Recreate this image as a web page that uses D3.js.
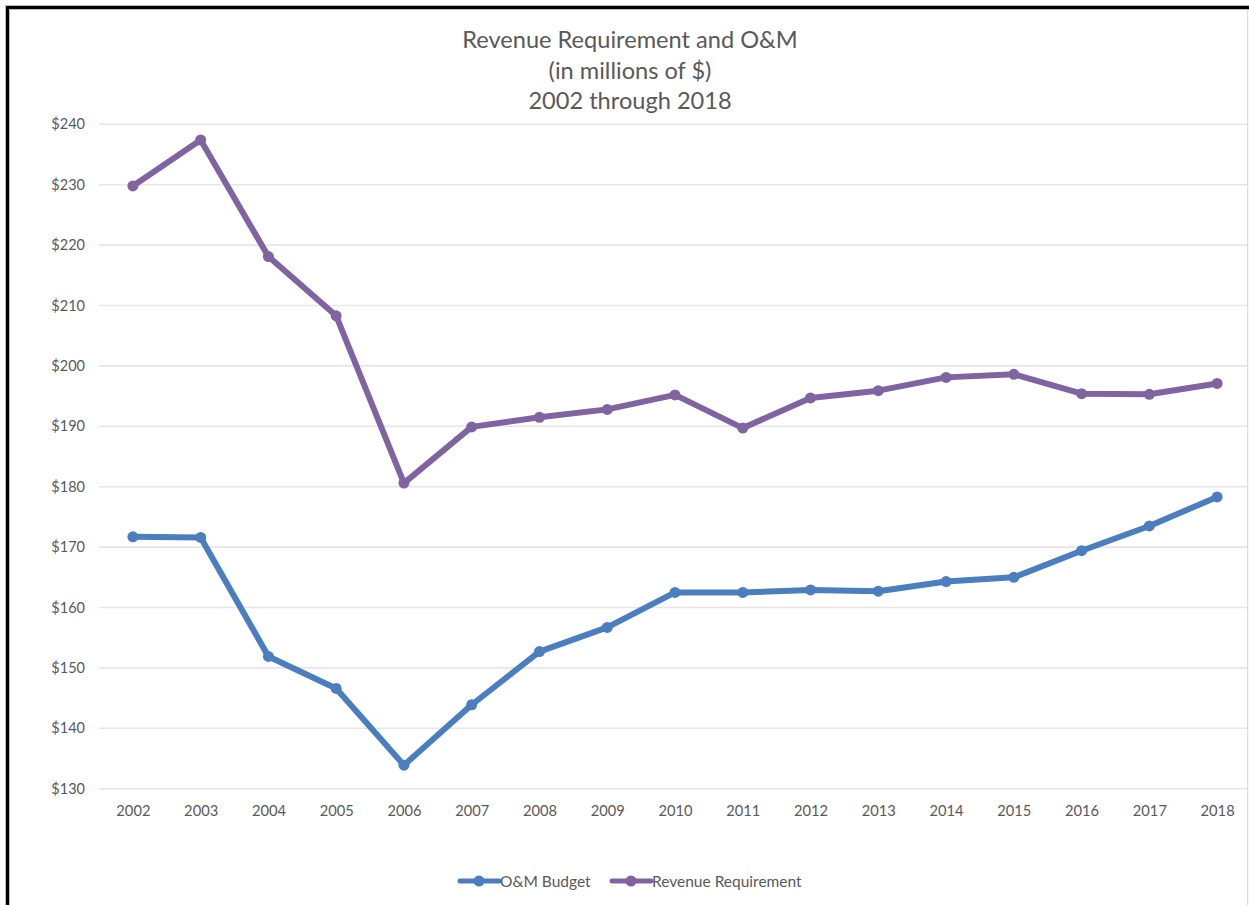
<!DOCTYPE html>
<html>
<head>
<meta charset="utf-8">
<script src="https://cdn.jsdelivr.net/npm/d3@7"></script>
<style>
  html, body { margin: 0; padding: 0; background: #fff; }
  svg { display: block; }
  text { font-family: Lato, "Open Sans", "Liberation Sans", sans-serif; fill: #595959; }
</style>
</head>
<body>
<svg id="chart" width="1249" height="905"></svg>
<script>
// Years on the category axis
const years = ["2002","2003","2004","2005","2006","2007","2008","2009","2010",
               "2011","2012","2013","2014","2015","2016","2017","2018"];

// Revenue requirement, millions of dollars
const revenueRequirement = [229.8, 237.4, 218.1, 208.3, 180.6, 189.9, 191.5, 192.8, 195.2,
                            189.7, 194.7, 195.9, 198.1, 198.6, 195.4, 195.3, 197.1];

// O&M budget, millions of dollars
const omBudget = [171.7, 171.6, 151.9, 146.6, 133.9, 143.9, 152.7, 156.7, 162.5,
                  162.5, 162.9, 162.7, 164.3, 165.0, 169.4, 173.5, 178.3];

// Value-axis ticks
const yTicks = [130, 140, 150, 160, 170, 180, 190, 200, 210, 220, 230, 240];

const titleLines = ["Revenue Requirement and O&M", "(in millions of $)", "2002 through 2018"];

const seriesList = [
  { name: "O&M Budget", values: omBudget, color: "#4A7EBE" },
  { name: "Revenue Requirement", values: revenueRequirement, color: "#8064A2" }
];

const svg = d3.select("#chart");

// Frame around the chart
svg.append("rect").attr("x", 1247).attr("y", 8).attr("width", 1.2).attr("height", 905)
  .attr("fill", "#dcdcdc");
svg.append("path")
  .attr("d", "M7.5,905 L7.5,7.5 L1249,7.5")
  .attr("fill", "none").attr("stroke", "#bbb").attr("stroke-width", 5);
svg.append("path")
  .attr("d", "M7.5,905 L7.5,7.5 L1249,7.5")
  .attr("fill", "none").attr("stroke", "#000").attr("stroke-width", 3);

const plot = { left: 99, right: 1251, top: 124.3, bottom: 788.7 };

const x = d3.scalePoint().domain(years)
  .range([plot.left, plot.right]).padding(0.5);
const y = d3.scaleLinear().domain([130, 240]).range([plot.bottom, plot.top]);

// Horizontal gridlines
svg.append("g").selectAll("line").data(yTicks).join("line")
  .attr("x1", plot.left).attr("x2", 1247)
  .attr("y1", d => y(d)).attr("y2", d => y(d))
  .attr("stroke", "#e6e6e6").attr("stroke-width", 1.6);

// Y-axis labels
const yAxis = d3.axisLeft(y).tickValues(yTicks).tickSize(0).tickPadding(0)
  .tickFormat(d => "$" + d);
svg.append("g").attr("transform", "translate(85,0)").call(yAxis)
  .call(g => g.select(".domain").remove())
  .selectAll("text").attr("font-size", 14.5).style("font-family", "Lato, sans-serif")
  .attr("fill", "#595959");

// X-axis labels
const xAxis = d3.axisBottom(x).tickSize(0).tickPadding(0);
svg.append("g").attr("transform", "translate(0,805.5)").call(xAxis)
  .call(g => g.select(".domain").remove())
  .selectAll("text").attr("font-size", 14.7).style("font-family", "Lato, sans-serif")
  .attr("fill", "#595959");

// Series lines and markers
const line = d3.line().x((d, i) => x(years[i])).y(d => y(d));
seriesList.forEach(s => {
  svg.append("path").datum(s.values)
    .attr("d", line).attr("fill", "none")
    .attr("stroke", s.color).attr("stroke-width", 6)
    .attr("stroke-linejoin", "round").attr("stroke-linecap", "round");
  svg.append("g").selectAll("circle").data(s.values).join("circle")
    .attr("cx", (d, i) => x(years[i])).attr("cy", d => y(d))
    .attr("r", 5.5).attr("fill", s.color);
});

// Title
svg.append("text").attr("x", 630).attr("y", 48).attr("text-anchor", "middle")
  .attr("font-size", 23.6)
  .selectAll("tspan").data(titleLines).join("tspan")
  .attr("x", 630).attr("dy", (d, i) => i === 0 ? 0 : 30.5).text(d => d);

// Legend
const legendItems = [
  { s: seriesList[0], x0: 460 },
  { s: seriesList[1], x0: 612 }
];
const ly = 881;
legendItems.forEach(({ s, x0 }) => {
  svg.append("line").attr("x1", x0).attr("x2", x0 + 39).attr("y1", ly).attr("y2", ly)
    .attr("stroke", s.color).attr("stroke-width", 5).attr("stroke-linecap", "round");
  svg.append("circle").attr("cx", x0 + 19).attr("cy", ly).attr("r", 5.5).attr("fill", s.color);
  svg.append("text").attr("x", x0 + 40).attr("y", ly + 5.5)
    .attr("font-size", 15.5).text(s.name);
});
</script>
</body>
</html>
